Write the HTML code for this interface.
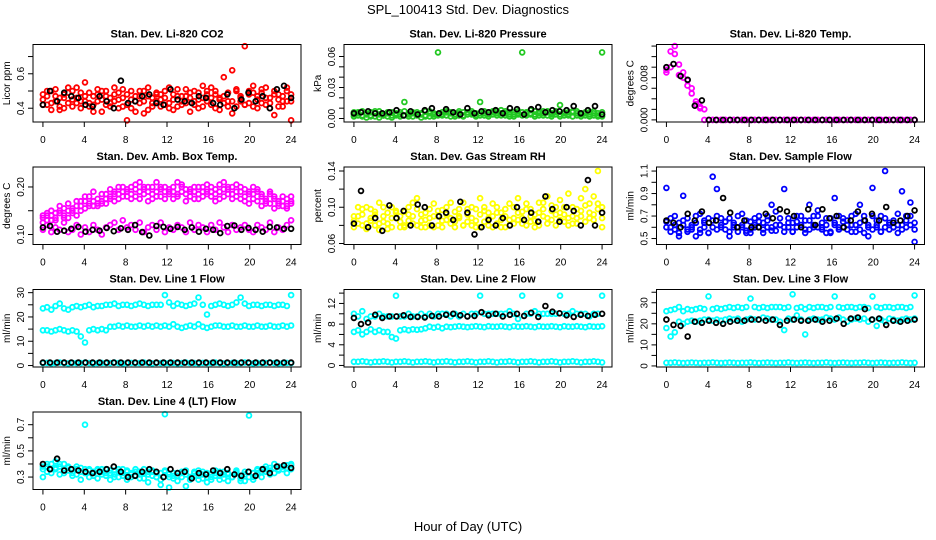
<!DOCTYPE html>
<html><head><meta charset="utf-8">
<style>
html,body{margin:0;padding:0;background:#fff;}
svg{display:block;font-family:"Liberation Sans",Arial,sans-serif;}
</style></head>
<body>
<svg id="chart" width="936" height="540" viewBox="0 0 936 540">
<text x="468" y="14" text-anchor="middle" font-size="13">SPL_100413  Std. Dev. Diagnostics</text>
<text x="468" y="531" text-anchor="middle" font-size="13">Hour of Day (UTC)</text>
</svg>
<script>
// ---- data ----
const xTicks = [0,4,8,12,16,20,24];
const co2A = [0.48,0.42,0.50,0.44,0.46,0.40,0.52,0.45,0.43,0.49,0.55,0.41,0.47,0.44,0.50,0.42,0.46,0.48,0.40,0.51,0.33,0.45,0.47,0.43,0.50,0.39,0.46,0.44,0.48,0.42,0.52,0.45,0.41,0.47,0.43,0.49,0.44,0.40,0.46,0.50,0.42,0.48,0.45,0.58,0.44,0.62,0.41,0.47,0.76,0.43,0.49,0.45,0.51,0.42,0.46,0.36,0.48,0.44,0.50,0.33];
const co2B = [0.42,0.47,0.39,0.51,0.41,0.48,0.43,0.50,0.46,0.40,0.44,0.49,0.42,0.51,0.38,0.47,0.43,0.52,0.45,0.41,0.48,0.40,0.44,0.50,0.37,0.47,0.43,0.49,0.41,0.46,0.40,0.48,0.51,0.42,0.47,0.38,0.50,0.45,0.41,0.48,0.52,0.40,0.46,0.43,0.49,0.37,0.51,0.44,0.42,0.50,0.41,0.47,0.43,0.52,0.40,0.48,0.45,0.41,0.52,0.44];
const co2C = [0.45,0.5,0.43,0.47,0.39,0.46,0.49,0.41,0.52,0.44,0.47,0.43,0.38,0.48,0.45,0.5,0.41,0.44,0.49,0.46,0.42,0.5,0.38,0.47,0.44,0.52,0.41,0.48,0.45,0.5,0.43,0.39,0.47,0.44,0.51,0.46,0.42,0.49,0.53,0.44,0.46,0.5,0.39,0.47,0.41,0.44,0.5,0.46,0.42,0.48,0.53,0.4,0.49,0.46,0.43,0.5,0.41,0.47,0.44,0.48];
const co2K = [0.42,0.50,0.44,0.49,0.47,0.46,0.42,0.41,0.47,0.44,0.40,0.56,0.43,0.44,0.47,0.48,0.43,0.42,0.51,0.45,0.44,0.43,0.47,0.46,0.43,0.42,0.48,0.40,0.45,0.49,0.44,0.47,0.40,0.51,0.53,0.46];
const presA = [0.004,0.006,0.002,0.005,0.003,0.007,0.001,0.004,0.006,0.003,0.005,0.002,0.016,0.004,0.006,0.003,0.005,0.007,0.002,0.004,0.064,0.006,0.003,0.005,0.004,0.007,0.002,0.006,0.005,0.003,0.016,0.007,0.004,0.006,0.005,0.008,0.003,0.006,0.004,0.007,0.064,0.005,0.008,0.004,0.006,0.003,0.007,0.005,0.004,0.013,0.006,0.003,0.007,0.005,0.004,0.006,0.002,0.005,0.003,0.064];
const presB = [0.002,0.005,0.003,0.001,0.006,0.002,0.004,0.003,0.005,0.001,0.004,0.006,0.003,0.002,0.005,0.004,0.001,0.003,0.005,0.002,0.004,0.003,0.006,0.002,0.004,0.005,0.003,0.006,0.004,0.002,0.005,0.003,0.006,0.004,0.007,0.003,0.005,0.002,0.006,0.004,0.003,0.006,0.004,0.002,0.005,0.007,0.003,0.004,0.006,0.002,0.005,0.004,0.006,0.003,0.002,0.005,0.004,0.003,0.005,0.002];
const presC = [0.006,0.003,0.007,0.004,0.002,0.005,0.007,0.003,0.002,0.006,0.003,0.004,0.007,0.005,0.002,0.006,0.004,0.002,0.007,0.005,0.003,0.004,0.007,0.006,0.002,0.003,0.006,0.004,0.007,0.005,0.003,0.005,0.002,0.007,0.003,0.005,0.007,0.004,0.002,0.005,0.006,0.003,0.005,0.007,0.003,0.005,0.006,0.002,0.007,0.004,0.003,0.006,0.002,0.007,0.005,0.003,0.006,0.007,0.002,0.006];
const presK = [0.005,0.006,0.007,0.005,0.005,0.006,0.008,0.003,0.007,0.004,0.008,0.010,0.005,0.009,0.006,0.004,0.010,0.005,0.007,0.006,0.008,0.005,0.010,0.009,0.004,0.009,0.011,0.006,0.008,0.007,0.008,0.012,0.005,0.008,0.012,0.004];
const tempA = [0.0095,0.0130,0.0140,0.0105,0.0090,0.0075,0.0060,0.0035,0.0025,0.0020,0,0,0,0,0,0,0,0,0,0,0,0,0,0,0,0,0,0,0,0,0,0,0,0,0,0,0,0,0,0,0,0,0,0,0,0,0,0,0,0,0,0,0,0,0,0,0,0,0,0];
const tempB = [0.0090,0.0100,0.0125,0.0085,0.0080,0.0065,0.0050,0.0030,0.0022,0,0,0,0,0,0,0,0,0,0,0,0,0,0,0,0,0,0,0,0,0,0,0,0,0,0,0,0,0,0,0,0,0,0,0,0,0,0,0,0,0,0,0,0,0,0,0,0,0,0,0];
const tempK = [0.0100,0.0106,0.0083,0.0076,0.0027,0.0037,0,0,0,0,0,0,0,0,0,0,0,0,0,0,0,0,0,0,0,0,0,0,0,0,0,0,0,0,0,0];
const boxA = [0.135,0.14,0.13,0.145,0.15,0.14,0.135,0.155,0.16,0.15,0.17,0.165,0.16,0.175,0.17,0.165,0.18,0.185,0.175,0.19,0.18,0.2,0.195,0.21,0.185,0.19,0.2,0.18,0.195,0.19,0.185,0.2,0.21,0.19,0.195,0.18,0.2,0.185,0.19,0.205,0.18,0.195,0.19,0.21,0.185,0.2,0.19,0.175,0.195,0.185,0.2,0.17,0.18,0.175,0.165,0.18,0.17,0.16,0.175,0.17];
const boxB = [0.125,0.145,0.14,0.13,0.16,0.135,0.15,0.145,0.17,0.16,0.155,0.18,0.17,0.16,0.165,0.185,0.175,0.19,0.2,0.18,0.195,0.175,0.18,0.19,0.2,0.17,0.185,0.21,0.18,0.2,0.19,0.175,0.185,0.2,0.17,0.195,0.19,0.175,0.2,0.185,0.19,0.17,0.205,0.18,0.195,0.175,0.205,0.19,0.18,0.165,0.185,0.19,0.16,0.17,0.185,0.155,0.165,0.18,0.16,0.165];
const boxD = [0.14,0.13,0.15,0.135,0.145,0.155,0.165,0.15,0.14,0.17,0.18,0.16,0.19,0.165,0.185,0.175,0.195,0.17,0.185,0.2,0.19,0.185,0.205,0.175,0.195,0.2,0.175,0.19,0.2,0.175,0.195,0.19,0.18,0.205,0.185,0.19,0.175,0.2,0.18,0.19,0.2,0.185,0.175,0.195,0.2,0.185,0.18,0.2,0.17,0.19,0.175,0.195,0.185,0.165,0.19,0.175,0.16,0.17,0.155,0.18];
const boxC = [0.11,0.12,0.105,0.115,0.11,0.125,0.105,0.11,0.12,0.1,0.115,0.105,0.12,0.11,0.1,0.115,0.12,0.125,0.11,0.13,0.115,0.12,0.11,0.125,0.105,0.115,0.12,0.11,0.125,0.105,0.115,0.11,0.12,0.115,0.105,0.125,0.11,0.12,0.115,0.105,0.12,0.11,0.125,0.115,0.105,0.12,0.11,0.115,0.12,0.11,0.105,0.12,0.115,0.11,0.125,0.105,0.115,0.11,0.12,0.13];
const boxK = [0.115,0.118,0.106,0.108,0.112,0.116,0.106,0.11,0.108,0.114,0.107,0.113,0.11,0.12,0.105,0.098,0.118,0.116,0.112,0.116,0.11,0.115,0.106,0.112,0.11,0.103,0.118,0.119,0.11,0.114,0.11,0.106,0.116,0.115,0.112,0.112];
const rhA = [0.085,0.09,0.08,0.1,0.085,0.095,0.075,0.09,0.082,0.1,0.088,0.078,0.095,0.085,0.105,0.08,0.092,0.086,0.098,0.078,0.09,0.085,0.1,0.082,0.095,0.088,0.08,0.092,0.1,0.085,0.078,0.096,0.088,0.104,0.082,0.094,0.09,0.08,0.1,0.086,0.095,0.08,0.098,0.085,0.105,0.09,0.082,0.096,0.1,0.086,0.092,0.08,0.1,0.088,0.096,0.084,0.104,0.092,0.098,0.088];
const rhB = [0.078,0.1,0.092,0.082,0.098,0.08,0.105,0.084,0.094,0.078,0.096,0.09,0.08,0.1,0.09,0.11,0.085,0.078,0.088,0.104,0.08,0.097,0.086,0.105,0.078,0.098,0.105,0.084,0.08,0.098,0.11,0.084,0.094,0.078,0.1,0.086,0.078,0.104,0.088,0.11,0.082,0.104,0.09,0.078,0.094,0.105,0.112,0.086,0.08,0.108,0.084,0.115,0.09,0.082,0.11,0.12,0.088,0.112,0.14,0.1];
const rhC = [0.09,0.082,0.098,0.076,0.088,0.092,0.082,0.1,0.076,0.088,0.094,0.084,0.078,0.092,0.082,0.098,0.078,0.094,0.08,0.09,0.096,0.078,0.092,0.088,0.084,0.09,0.08,0.098,0.088,0.078,0.092,0.1,0.08,0.09,0.094,0.078,0.098,0.086,0.082,0.094,0.088,0.098,0.084,0.092,0.08,0.098,0.088,0.102,0.092,0.094,0.1,0.088,0.082,0.098,0.09,0.102,0.094,0.086,0.104,0.078];
const rhK = [0.082,0.118,0.078,0.088,0.074,0.102,0.088,0.096,0.08,0.103,0.1,0.08,0.09,0.094,0.086,0.106,0.094,0.07,0.078,0.086,0.08,0.088,0.08,0.1,0.086,0.094,0.084,0.112,0.098,0.084,0.1,0.096,0.08,0.13,0.08,0.094];
const sfA = [0.65,0.6,0.7,0.55,0.62,0.68,0.58,0.64,0.72,0.6,0.55,0.66,0.7,0.62,0.58,0.68,0.64,0.6,0.72,0.57,0.65,0.62,0.7,0.58,0.66,0.6,0.74,0.62,0.56,0.68,0.64,0.6,0.7,0.58,0.66,0.62,0.75,0.6,0.68,0.56,0.64,0.7,0.6,0.66,0.62,0.72,0.58,0.66,0.6,0.7,0.62,0.56,0.68,0.64,0.6,0.72,0.62,0.66,0.7,0.64];
const sfB = [0.95,0.56,0.62,0.52,0.88,0.58,0.6,0.52,0.58,0.66,0.55,1.05,0.94,0.6,0.65,0.52,0.6,0.56,0.62,0.55,0.58,0.6,0.65,0.55,0.6,0.8,0.57,0.62,0.94,0.6,0.56,0.65,0.62,0.55,0.8,0.6,0.7,0.58,0.62,0.55,0.86,0.6,0.65,0.58,0.56,0.62,0.8,0.55,0.52,0.95,0.6,0.56,1.1,0.62,0.6,0.55,0.92,0.6,0.82,0.47];
const sfC = [0.6,0.68,0.58,0.64,0.66,0.56,0.62,0.7,0.55,0.64,0.68,0.6,0.58,0.68,0.65,0.56,0.62,0.7,0.6,0.66,0.55,0.68,0.6,0.64,0.7,0.57,0.62,0.68,0.6,0.64,0.56,0.7,0.62,0.66,0.58,0.7,0.6,0.64,0.55,0.68,0.62,0.58,0.68,0.62,0.7,0.56,0.64,0.7,0.62,0.58,0.66,0.7,0.6,0.58,0.66,0.62,0.58,0.7,0.62,0.58];
const sfK = [0.66,0.64,0.6,0.72,0.66,0.74,0.64,0.66,0.86,0.73,0.6,0.66,0.6,0.6,0.72,0.68,0.76,0.74,0.7,0.6,0.76,0.62,0.76,0.68,0.7,0.6,0.66,0.74,0.66,0.72,0.66,0.78,0.64,0.66,0.7,0.75];
const l1A = [23.5,24,23,24.5,25.5,23.5,23,24,24.5,24,24.5,25,24,24.5,24.5,25,25,25.5,24.5,25,25,24.5,25,25.5,25,24.5,25,25,25,29,26,24.5,25.5,25,24.5,25,25.5,28,25,21,24.5,25,25.5,25,24.5,25,26,28,25.5,24.5,25,25,24.5,25,25,24.5,25,25,24.5,29];
const l1B = [14.5,14.5,14,14.5,15,14.5,14,14.5,14,12,9.5,14.5,15,14.5,15,14.5,16,16,16.5,16,16.5,16,16,16.5,16,16.5,16,16.5,16,16.5,16,17,16,15.5,16,16.5,16,17,16,15.5,16,16.5,16.5,16,16,16.5,16,16,16.5,16,16,16.5,16,16,16.5,16,16,16.5,16,16.5];
const l1C = [1,1.1,0.9,1,1.2,1,0.9,1.1,1,1,1.2,1,0.9,1,1.1,1,1,1.2,1,0.9,1,1.1,1,1,1.2,1,0.9,1.1,1,1,1,1.1,0.9,1,1.2,1,1,0.9,1.1,1,1,1.2,1,0.9,1,1.1,1,1,1.2,1,0.9,1.1,1,1,1.2,1,0.9,1,1.1,1];
const l1K = [1.2,1.2,1.2,1.2,1.2,1.2,1.2,1.2,1.2,1.2,1.2,1.2,1.2,1.2,1.2,1.2,1.2,1.2,1.2,1.2,1.2,1.2,1.2,1.2,1.2,1.2,1.2,1.2,1.2,1.2,1.2,1.2,1.2,1.2,1.2,1.2];
const l2A = [10,9.5,10.5,9,9.5,9.5,10,9.5,9.5,9.5,13.5,9.5,9.5,10,9.5,9.5,10,9.5,10,9.5,10,10,10,9.5,10,9.5,10,9.5,10,10,13.5,10,10,10,10,10,10,10.5,10,9,13.5,10,10,10.5,10,10,10,10,10,13.5,10,10,10.5,10,10,10,9.5,10,10,13.5];
const l2B = [6.5,6.8,6,6.5,7,6.5,6.8,6.5,6.5,5.5,5.2,6.8,7,6.8,7,6.9,7,7.2,7.5,7.3,7.5,7.2,7.5,7.4,7.5,7.6,7.5,7.4,7.5,7.6,7.5,7.4,7.6,7.5,7.5,7.6,7.5,7.4,7.6,7.5,7.5,7.6,7.5,7.4,7.6,7.5,7.5,7.6,7.5,7.4,7.6,7.5,7.5,7.6,7.5,7.4,7.6,7.5,7.5,7.6];
const l2C = [0.7,0.7,0.8,0.7,0.6,0.7,0.7,0.8,0.7,0.6,0.7,0.7,0.8,0.7,0.6,0.7,0.7,0.8,0.7,0.6,0.7,0.7,0.8,0.7,0.6,0.7,0.7,0.8,0.7,0.6,0.7,0.7,0.8,0.7,0.6,0.7,0.7,0.8,0.7,0.6,0.7,0.7,0.8,0.7,0.6,0.7,0.7,0.8,0.7,0.6,0.7,0.7,0.8,0.7,0.6,0.7,0.7,0.8,0.7,0.6];
const l2K = [9.2,8,8.3,9.8,9.2,9.5,9.5,9.7,9.4,9.4,9.3,9.6,9.5,9.8,10,9.7,9.5,9.6,10.3,9.7,10,9.5,9.8,10,9.6,10.2,9.4,11.5,10.4,10.1,9.7,9.4,9.8,9.6,9.8,10];
const l3A = [26,26.5,27,28,26,27,26.5,27,27.5,27,33,27,27.5,27,27.5,28,27.5,28,27.5,28,32,28,27.5,28,27.5,28,28,28,27.5,28,34,27.5,28,27,28,27.5,28,28,27.5,28,33,28,27.5,28,28,27.5,28,28,27.5,33,28,27.5,28,28,27.5,28,28,27.5,28,33.5];
const l3B = [18,14,16,21,20,21,21.5,21,21.5,22,22,21.5,22,21.5,22,22.5,22,22.5,21,22,22.5,22,22,23,22.5,22,22,21,17,22.5,22,24,22,15,22,22.5,22,22,23,22.5,22,23,22,21,22,22.5,22,22.5,21,22,19,22,21,22.5,22,21.5,22,22.5,22,22.5];
const l3C = [1.5,1.5,1.7,1.5,1.4,1.5,1.6,1.5,1.4,1.5,1.5,1.7,1.5,1.4,1.5,1.6,1.5,1.4,1.5,1.5,1.7,1.5,1.4,1.5,1.6,1.5,1.4,1.5,1.5,1.7,1.5,1.4,1.5,1.6,1.5,1.4,1.5,1.5,1.7,1.5,1.4,1.5,1.6,1.5,1.4,1.5,1.5,1.7,1.5,1.4,1.5,1.6,1.5,1.4,1.5,1.5,1.7,1.5,1.4,1.5];
const l3K = [22,19.5,19,14,21,20.5,21.5,20.5,20,21,21.5,21.5,22,22,21.5,22,19.5,21.5,22,21.5,21.5,22,21,21.5,22.5,20,22.5,23,27,22,22.5,19.5,21.5,21,21.5,22];
const l4A = [0.38,0.34,0.4,0.36,0.38,0.35,0.37,0.33,0.36,0.34,0.7,0.35,0.33,0.36,0.34,0.33,0.35,0.32,0.34,0.33,0.35,0.33,0.31,0.34,0.36,0.32,0.34,0.3,0.33,0.78,0.3,0.33,0.31,0.34,0.32,0.3,0.33,0.31,0.34,0.3,0.32,0.33,0.31,0.34,0.32,0.3,0.33,0.31,0.34,0.77,0.33,0.35,0.34,0.36,0.35,0.37,0.36,0.38,0.37,0.39];
const l4B = [0.3,0.4,0.36,0.42,0.32,0.4,0.35,0.31,0.38,0.28,0.36,0.3,0.34,0.29,0.36,0.31,0.28,0.35,0.3,0.36,0.28,0.32,0.36,0.29,0.33,0.26,0.35,0.3,0.24,0.35,0.22,0.31,0.27,0.33,0.23,0.3,0.34,0.28,0.32,0.26,0.3,0.35,0.28,0.32,0.27,0.3,0.34,0.29,0.27,0.3,0.28,0.36,0.3,0.38,0.32,0.4,0.35,0.38,0.33,0.4];
const l4C = [0.36,0.38,0.33,0.37,0.4,0.33,0.38,0.36,0.32,0.37,0.33,0.36,0.31,0.35,0.32,0.36,0.33,0.3,0.36,0.31,0.34,0.3,0.34,0.32,0.29,0.34,0.31,0.33,0.28,0.34,0.32,0.29,0.33,0.3,0.35,0.28,0.31,0.35,0.29,0.33,0.28,0.31,0.34,0.29,0.33,0.3,0.35,0.27,0.32,0.34,0.3,0.33,0.36,0.34,0.37,0.33,0.38,0.36,0.39,0.36];
const l4K = [0.4,0.36,0.44,0.35,0.36,0.35,0.34,0.33,0.34,0.36,0.38,0.34,0.3,0.31,0.34,0.36,0.34,0.3,0.36,0.33,0.34,0.29,0.33,0.32,0.35,0.33,0.36,0.32,0.31,0.34,0.31,0.36,0.33,0.38,0.39,0.37];

// ---- layout ----
const colX=[33,344,656.5], rowY=[44.5,167,289.5,412], W=268, H=77.5;
const panels=[
 {name:'co2',title:'Stan. Dev. Li-820 CO2',yt:'Licor ppm',c:0,r:0,ylim:[0.32,0.77],ticks:[0.4,0.5,0.6,0.7],labels:{'0.4':'0.4','0.6':'0.6'},color:'#ff0000',series:[co2A,co2B,co2C],black:co2K},
 {name:'pressure',title:'Stan. Dev. Li-820 Pressure',yt:'kPa',c:1,r:0,ylim:[-0.0034,0.0716],ticks:[0,0.01,0.02,0.03,0.04,0.05,0.06],labels:{'0':'0.00','0.03':'0.03','0.06':'0.06'},color:'#22c822',series:[presA,presB,presC],black:presK},
 {name:'temp',title:'Stan. Dev. Li-820 Temp.',yt:'degrees C',c:2,r:0,ylim:[-0.0004,0.0143],ticks:[0,0.002,0.004,0.006,0.008,0.01,0.012,0.014],labels:{'0':'0.000','0.008':'0.008'},color:'#ff00ff',series:[tempA,tempB],black:tempK},
 {name:'box-temp',title:'Stan. Dev. Amb. Box Temp.',yt:'degrees C',c:0,r:1,ylim:[0.079,0.242],ticks:[0.1,0.15,0.2],labels:{'0.1':'0.10','0.2':'0.20'},color:'#ff00ff',series:[boxA,boxB,boxD,boxC],black:boxK},
 {name:'rh',title:'Stan. Dev. Gas Stream RH',yt:'percent',c:1,r:1,ylim:[0.0589,0.1444],ticks:[0.06,0.08,0.1,0.12,0.14],labels:{'0.06':'0.06','0.1':'0.10','0.14':'0.14'},color:'#ffff00',series:[rhA,rhB,rhC],black:rhK},
 {name:'sample-flow',title:'Stan. Dev. Sample Flow',yt:'ml/min',c:2,r:1,ylim:[0.447,1.136],ticks:[0.5,0.6,0.7,0.8,0.9,1.0,1.1],labels:{'0.5':'0.5','0.7':'0.7','0.9':'0.9','1.1':'1.1'},color:'#0000ff',series:[sfA,sfB,sfC],black:sfK},
 {name:'line1',title:'Stan. Dev. Line 1 Flow',yt:'ml/min',c:0,r:2,ylim:[-0.6,31.3],ticks:[0,5,10,15,20,25,30],labels:{'0':'0','10':'10','20':'20','30':'30'},color:'#00ffff',series:[l1A,l1B,l1C],black:l1K},
 {name:'line2',title:'Stan. Dev. Line 2 Flow',yt:'ml/min',c:1,r:2,ylim:[-0.3,14.7],ticks:[0,2,4,6,8,10,12,14],labels:{'0':'0','4':'4','8':'8','12':'12'},color:'#00ffff',series:[l2A,l2B,l2C],black:l2K},
 {name:'line3',title:'Stan. Dev. Line 3 Flow',yt:'ml/min',c:2,r:2,ylim:[-0.5,36.3],ticks:[0,5,10,15,20,25,30,35],labels:{'0':'0','10':'10','20':'20','30':'30'},color:'#00ffff',series:[l3A,l3B,l3C],black:l3K},
 {name:'line4',title:'Stan. Dev. Line 4 (LT) Flow',yt:'ml/min',c:0,r:3,ylim:[0.205,0.797],ticks:[0.3,0.4,0.5,0.6,0.7],labels:{'0.3':'0.3','0.5':'0.5','0.7':'0.7'},color:'#00ffff',series:[l4A,l4B,l4C],black:l4K}
];
const NS='http://www.w3.org/2000/svg';
const svg=document.getElementById('chart');
function mk(tag,attrs,parent){const e=document.createElementNS(NS,tag);for(const k in attrs)e.setAttribute(k,attrs[k]);(parent||svg).appendChild(e);return e;}
panels.forEach(p=>{
  const L=colX[p.c], T=rowY[p.r], B=T+H, R=L+W;
  const xs=h=>L+(h+0.96)/25.92*W;
  const ys=v=>B-(v-p.ylim[0])/(p.ylim[1]-p.ylim[0])*H;
  const g=mk('g',{});
  
  
  const t=mk('text',{x:(L+R)/2,y:T-7,'text-anchor':'middle','font-size':'11','font-weight':'bold'},g);
  t.textContent=p.title;
  
  
  const yt=mk('text',{x:0,y:0,'text-anchor':'middle','font-size':'10',transform:`translate(${L-23},${(T+B)/2}) rotate(-90)`},g);
  yt.textContent=p.yt;
  
  
  const mg=mk('g',{fill:'none','stroke-width':'1.8'},g);
  
  
  p.series.forEach(arr=>{
    arr.forEach((v,i)=>{
      const h=i*24/(arr.length-1);
      const c=mk('circle',{cx:xs(h).toFixed(1),cy:ys(v).toFixed(1),r:'2.4',stroke:p.color},mg);
      
      
    });
  });
  p.black.forEach((v,i)=>{
    const h=i*24/(p.black.length-1);
    const c=mk('circle',{cx:xs(h).toFixed(1),cy:ys(v).toFixed(1),r:'2.4',stroke:'#000'},mg);
    
    
  });
  const fr=mk('rect',{x:L,y:T,width:W,height:H,fill:'none',stroke:'#000','stroke-width':'1'},g);
  
  
  const xa=mk('g',{},g);
  
  
  xTicks.forEach(h=>{
    mk('line',{x1:xs(h),x2:xs(h),y1:B,y2:B+5,stroke:'#000'},xa);
    const tl=mk('text',{x:xs(h),y:B+21,'text-anchor':'middle','font-size':'10'},xa);
    tl.textContent=h;
    
    
  });
  const ya=mk('g',{},g);
  
  
  mk('line',{x1:L,x2:L,y1:ys(p.ticks[0]),y2:ys(p.ticks[p.ticks.length-1]),stroke:'#000'},ya);
  p.ticks.forEach(v=>{
    mk('line',{x1:L-5,x2:L,y1:ys(v),y2:ys(v),stroke:'#000'},ya);
    const key=String(+v.toFixed(4));
    if(p.labels[key]!==undefined){
      const tl=mk('text',{x:0,y:0,'text-anchor':'middle','font-size':'10',transform:`translate(${L-9},${ys(v)}) rotate(-90)`},ya);
      tl.textContent=p.labels[key];
      
      
    }
  });
});
</script>
</body></html>
